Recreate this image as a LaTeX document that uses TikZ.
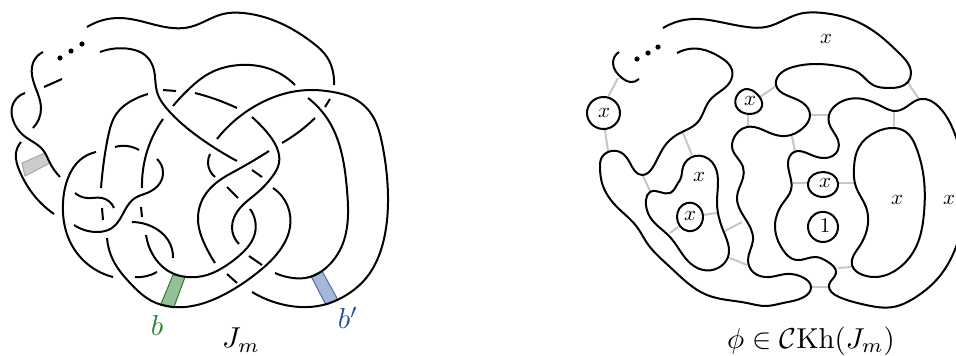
\documentclass[tikz,border=0pt]{standalone}
\usetikzlibrary{hobby}
\begin{document}
\begin{tikzpicture}[x=1pt,y=-1pt,
  strand/.style={line width=2pt,black,use Hobby shortcut},
  grayedge/.style={line width=2pt,black!22},
  band/.style={line width=1pt},
  lab/.style={scale=2.1,inner sep=0pt},
  captext/.style={scale=2.88,inner sep=0pt}]
\definecolor{bgreen}{rgb}{0.17,0.5,0.2}
\definecolor{bblue}{rgb}{0.13,0.29,0.62}
\clip (0,0) rectangle (956,356);
\fill[white] (0,0) rectangle (956,356);
% ---- left: bands
\filldraw[band,draw=black!35,fill=black!20] (22,163)--(25,176)--(50,163)--(45,153)--cycle;
\filldraw[band,draw=bgreen,fill=bgreen!50] (173,275)--(185,277)--(174,307)--(161,304)--cycle;
\filldraw[band,draw=bblue!80,fill=bblue!40] (311,276)--(322,271)--(338,300)--(326,305)--cycle;
% ---- left: strands
\draw[strand] (87,27)..(120,18)..(160,26)..(190,27)..(223,14)..(243,13)..(267,18)..(313,43)..(327,57)..(333,72)..(334,85);
\draw[strand] (100,52)..(130,49)..(145,55)..(154,70)..(157,92)..(168,110)..(200,138)..(237,161);
\draw[strand] (43,52)..(33,63)..(33,80)..(41,108)..(33,128);
\draw[strand] (25,93)..(12,107)..(13,120)..(23,135)..(43,150)..(50,163)..(60,177);
\draw[strand] (21,142)..(16,153)..(20,172)..(30,190)..(54,214);
\draw[strand] (44,87)..(62,79);
\foreach \px/\py in {60/58,71/51,82/44} \fill (\px,\py) circle (2.6);
\draw[strand] (148,94)..(133,100)..(117,113)..(108,137)..(102,177)..(101,188);
\draw[strand] (102,208)..(103,220);
\draw[strand] (107,238)..(113,260)..(131,284)..(150,300)..(173,307)..(197,305)..(227,293)..(257,273)..(280,250)..(290,227)..(288,207)..(273,188);
\draw[strand] (163,119)..(150,143)..(143,170)..(142,188);
\draw[strand] (141,207)..(142,217);
\draw[strand] (146,235)..(153,255)..(170,272)..(187,277)..(207,275)..(227,265)..(240,255)..(255,233)..(255,220)..(250,209);
\draw[strand] (239,244)..(232,227)..(240,208)..(257,193)..(272,177)..(279,163)..(277,148)..(265,130)..(252,117);
\draw[strand] (269,151)..(237,170)..(223,178)..(205,195)..(198,220)..(205,245)..(215,263);
\draw[strand] (282,143)..(300,131)..(315,118);
\draw[strand] (325,107)..(330,99);
\draw[strand] (210,154)..(208,163)..(215,177);
\draw[strand] (227,187)..(238,198);
\draw[strand] (252,170)..(262,177);
\draw[strand] (249,256)..(262,265);
\draw[strand] (227,274)..(237,283);
\draw[strand] (275,273)..(287,277)..(310,277)..(327,267)..(340,250)..(347,227)..(347,190)..(340,147)..(330,123)..(308,98);
\draw[strand] (252,292)..(277,303)..(300,307)..(323,305)..(343,297)..(367,277)..(383,243)..(388,203)..(387,177)..(382,143)..(372,115)..(353,98)..(333,92)..(313,90)..(287,93)..(257,105)..(233,122)..(217,139);
\draw[strand] (173,106)..(190,88)..(210,73)..(240,65)..(267,68)..(295,85);
\draw[strand] (163,90)..(176,91);
\draw[strand] (195,93)..(215,99)..(237,108);
\draw[strand] (115,147)..(127,146)..(139,150);
\draw[strand] (157,159)..(163,172)..(160,183)..(147,193)..(135,198)..(125,210)..(112,228)..(97,232)..(74,225);
\draw[strand] (96,152)..(80,160)..(68,178)..(63,203)..(68,237)..(83,260)..(113,277);
\draw[strand] (75,193)..(87,198)..(102,198)..(114,208);
\draw[strand] (135,277)..(147,276)..(157,272);
\draw[strand] (132,222)..(153,227)..(168,240)..(173,258);
\node[captext,text=bgreen] (lb) at (157,325) {$b$};
\node[captext,text=bblue] (lbp) at (348,318) {$b'$};
\node[captext] (jm) at (241,340) {$J_m$};
% ---- right: gray edges
\foreach \ax/\ay/\bx/\by in {618/78/608/97,605/130/608/151,683/133/692/155,643/176/650/191,748/114/748/126,760/97/776/86,809/115/829/115,792/136/795/151,894/111/894/128,908/83/919/99,670/233/678/227,703/215/717/213,725/231/742/222,730/258/747/265,793/183/808/183,838/183/854/183,838/268/852/267,811/287/829/287}
  \draw[grayedge] (\ax,\ay) -- (\bx,\by);
% ---- right: strands
\draw[strand] (619,52)..(613,63)..(622,78)..(630,82)..(639,79);
\foreach \px/\py in {637/59,648/53,658/47} \fill (\px,\py) circle (2.6);
\draw[strand] (663,28)..(693,19)..(720,22)..(747,27)..(766,27)..(799,14)..(823,13)..(853,20)..(879,35)..(899,53)..(911,73)..(908,82)..(889,88)..(873,85)..(859,73)..(843,67)..(816,64)..(793,67)..(779,75)..(776,85)..(786,95)..(803,103)..(810,115)..(803,128)..(786,136)..(770,133)..(747,127)..(733,140)..(732,147)..(743,167)..(743,178)..(737,197)..(753,240)..(748,260)..(753,272)..(770,277)..(786,274)..(804,278)..(811,287)..(804,297)..(783,303)..(766,306)..(747,303)..(707,295)..(670,267)..(647,243)..(637,227)..(617,207)..(602,183)..(600,168)..(602,157)..(608,152)..(620,152)..(630,163)..(642,175)..(653,167)..(667,143)..(680,133)..(697,123)..(710,100)..(730,82)..(732,70)..(720,57)..(700,49)..(677,53);
\draw[strand] ([closed]829,115)..(836,105)..(863,99)..(883,107)..(896,111)..(909,105)..(921,99)..(939,107)..(956,137)..(966,190)..(956,247)..(939,277)..(916,297)..(893,307)..(866,305)..(839,297)..(829,285)..(836,273)..(828,262)..(816,257)..(796,260)..(783,250)..(775,225)..(783,203)..(791,190)..(788,163)..(794,152)..(809,154)..(826,158)..(838,150)..(838,140)..(829,123);
\draw[strand] ([closed]894,128)..(876,132)..(859,147)..(854,167)..(856,187)..(866,207)..(868,223)..(859,247)..(852,265)..(863,275)..(876,277)..(899,268)..(916,247)..(924,213)..(924,180)..(916,147)..(906,132);
\draw[strand] ([closed]680,180)..(683,167)..(695,156)..(712,162)..(718,180)..(717,203)..(723,230)..(728,257)..(718,268)..(703,270)..(687,260)..(670,237)..(650,217)..(646,200)..(650,192)..(670,193)..(678,183);
\draw[strand] ([closed]620,113)..(603,97)..(587,113)..(603,129);
\draw[strand] ([closed]748,89)..(757,94)..(762,106)..(749,114)..(736,106)..(738,94);
\draw[strand] ([closed]808,183)..(823,172)..(838,183)..(823,197);
\draw[strand] ([closed]808,227)..(821,212)..(838,227)..(823,242);
\draw[strand] ([closed]677,217)..(687,203)..(703,217)..(688,231);
\node[lab] (x1) at (826,39) {$x$};
\node[lab] (x2) at (604,113) {$x$};
\node[lab] (x3) at (750,101) {$x$};
\node[lab] (x4) at (699,177) {$x$};
\node[lab] (x5) at (690,216) {$x$};
\node[lab] (x6) at (825,183) {$x$};
\node[lab] (x7) at (897,200) {$x$};
\node[lab] (x8) at (949,200) {$x$};
\node[lab] (one) at (825,226) {$1$};
\node[captext] (phi) at (811,341) {$\phi\in\mathcal{C}\mathrm{Kh}(J_m)$};
\end{tikzpicture}
\end{document}
